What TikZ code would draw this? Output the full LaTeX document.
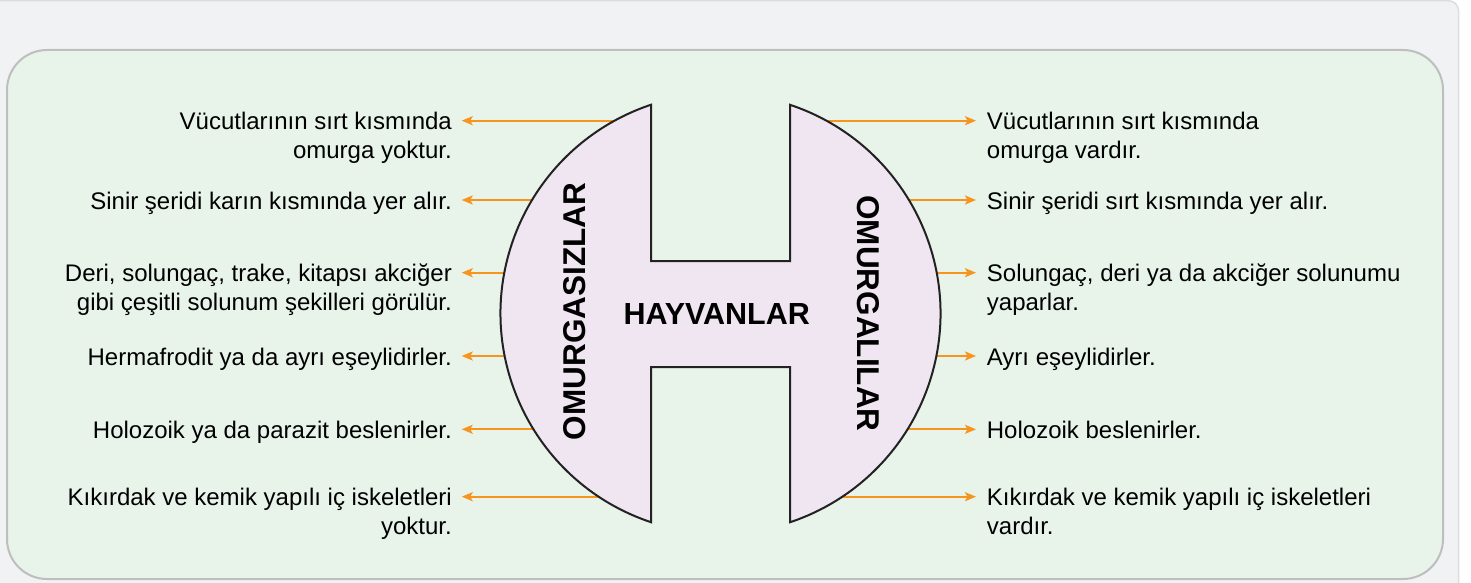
\documentclass[tikz,border=0pt]{standalone}
\usepackage{fontspec}
\setmainfont{Liberation Sans}
\usetikzlibrary{arrows.meta}
\definecolor{pagebg}{HTML}{F1F2F4}
\definecolor{pageline}{HTML}{DCDDE0}
\definecolor{panelbg}{HTML}{E8F3EA}
\definecolor{panelline}{HTML}{BDBEBD}
\definecolor{hfill}{HTML}{F0E6F2}
\definecolor{hline}{HTML}{222222}
\definecolor{arrowc}{HTML}{F7941D}
\tikzset{
  desc/.style={inner sep=0pt, font=\fontsize{24}{28.8}\selectfont, text=black},
  ldesc/.style={desc, anchor=north east, align=right},
  rdesc/.style={desc, anchor=north west, align=left},
  conn/.style={arrowc, line width=2pt, -{Stealth[length=11pt,width=9pt,inset=2.5pt]}},
  title/.style={inner sep=0pt, font=\bfseries\fontsize{30.5}{36}\selectfont},
  sidetitle/.style={inner sep=0pt, font=\bfseries\fontsize{31.5}{36}\selectfont},
}
\begin{document}
\begin{tikzpicture}[x=1pt,y=-1pt]
\useasboundingbox (0,0) rectangle (1471,583);
\clip (0,0) rectangle (1471,583);
\fill[white] (0,0) rectangle (1471,583);
\draw[pageline, fill=pagebg, line width=1.5pt, rounded corners=10pt] (-30,0.75) rectangle (1458.5,640);
\draw[panelline, fill=panelbg, line width=2pt, rounded corners=40pt] (7,50) rectangle (1443,579);

% connector end points
\foreach \i/\y in {1/120.7,2/200,3/272.7,4/356,5/429.3,6/496.7}{
  \coordinate (Ls\i) at (640,\y);
  \coordinate (Lt\i) at (461.7,\y);
  \coordinate (Rs\i) at (800,\y);
  \coordinate (Rt\i) at (976,\y);
}

% left descriptions
\node[ldesc] (tl1) at (452,109.5) {\strut Vücutlarının sırt kısmında\\omurga yoktur.};
\node[ldesc] (tl2) at (452,188.8) {\strut Sinir şeridi karın kısmında yer alır.};
\node[ldesc] (tl3) at (452,261.5) {\strut Deri, solungaç, trake, kitapsı akciğer\\gibi çeşitli solunum şekilleri görülür.};
\node[ldesc] (tl4) at (452,344.8) {\strut Hermafrodit ya da ayrı eşeylidirler.};
\node[ldesc] (tl5) at (452,418.1) {\strut Holozoik ya da parazit beslenirler.};
\node[ldesc] (tl6) at (452,485.5) {\strut Kıkırdak ve kemik yapılı iç iskeletleri\\yoktur.};

% right descriptions
\node[rdesc] (tr1) at (986.7,109.5) {\strut Vücutlarının sırt kısmında\\omurga vardır.};
\node[rdesc] (tr2) at (986.7,188.8) {\strut Sinir şeridi sırt kısmında yer alır.};
\node[rdesc] (tr3) at (986.7,261.5) {\strut Solungaç, deri ya da akciğer solunumu\\yaparlar.};
\node[rdesc] (tr4) at (986.7,344.8) {\strut Ayrı eşeylidirler.};
\node[rdesc] (tr5) at (986.7,418.1) {\strut Holozoik beslenirler.};
\node[rdesc] (tr6) at (986.7,485.5) {\strut Kıkırdak ve kemik yapılı iç iskeletleri\\vardır.};

% connectors
\foreach \i in {1,...,6}{
  \draw[conn] (Ls\i) -- (Lt\i);
  \draw[conn] (Rs\i) -- (Rt\i);
}

% H shape
\draw[hline, fill=hfill, line width=2pt, line join=miter]
  (651,104.8) -- (651,261) -- (790,261) -- (790,104.8)
  arc[start angle=-71.585, end angle=71.585, radius=220]
  -- (790,367) -- (651,367) -- (651,522.2)
  arc[start angle=108.415, end angle=251.585, radius=220] -- cycle;

\node[title] (hay) at (716.7,314) {HAYVANLAR};
\node[sidetitle, rotate=90] (omsiz) at (574.7,311.5) {OMURGASIZLAR};
\node[sidetitle, rotate=-90] (omli) at (868.7,313.4) {OMURGALILAR};
\end{tikzpicture}
\end{document}
